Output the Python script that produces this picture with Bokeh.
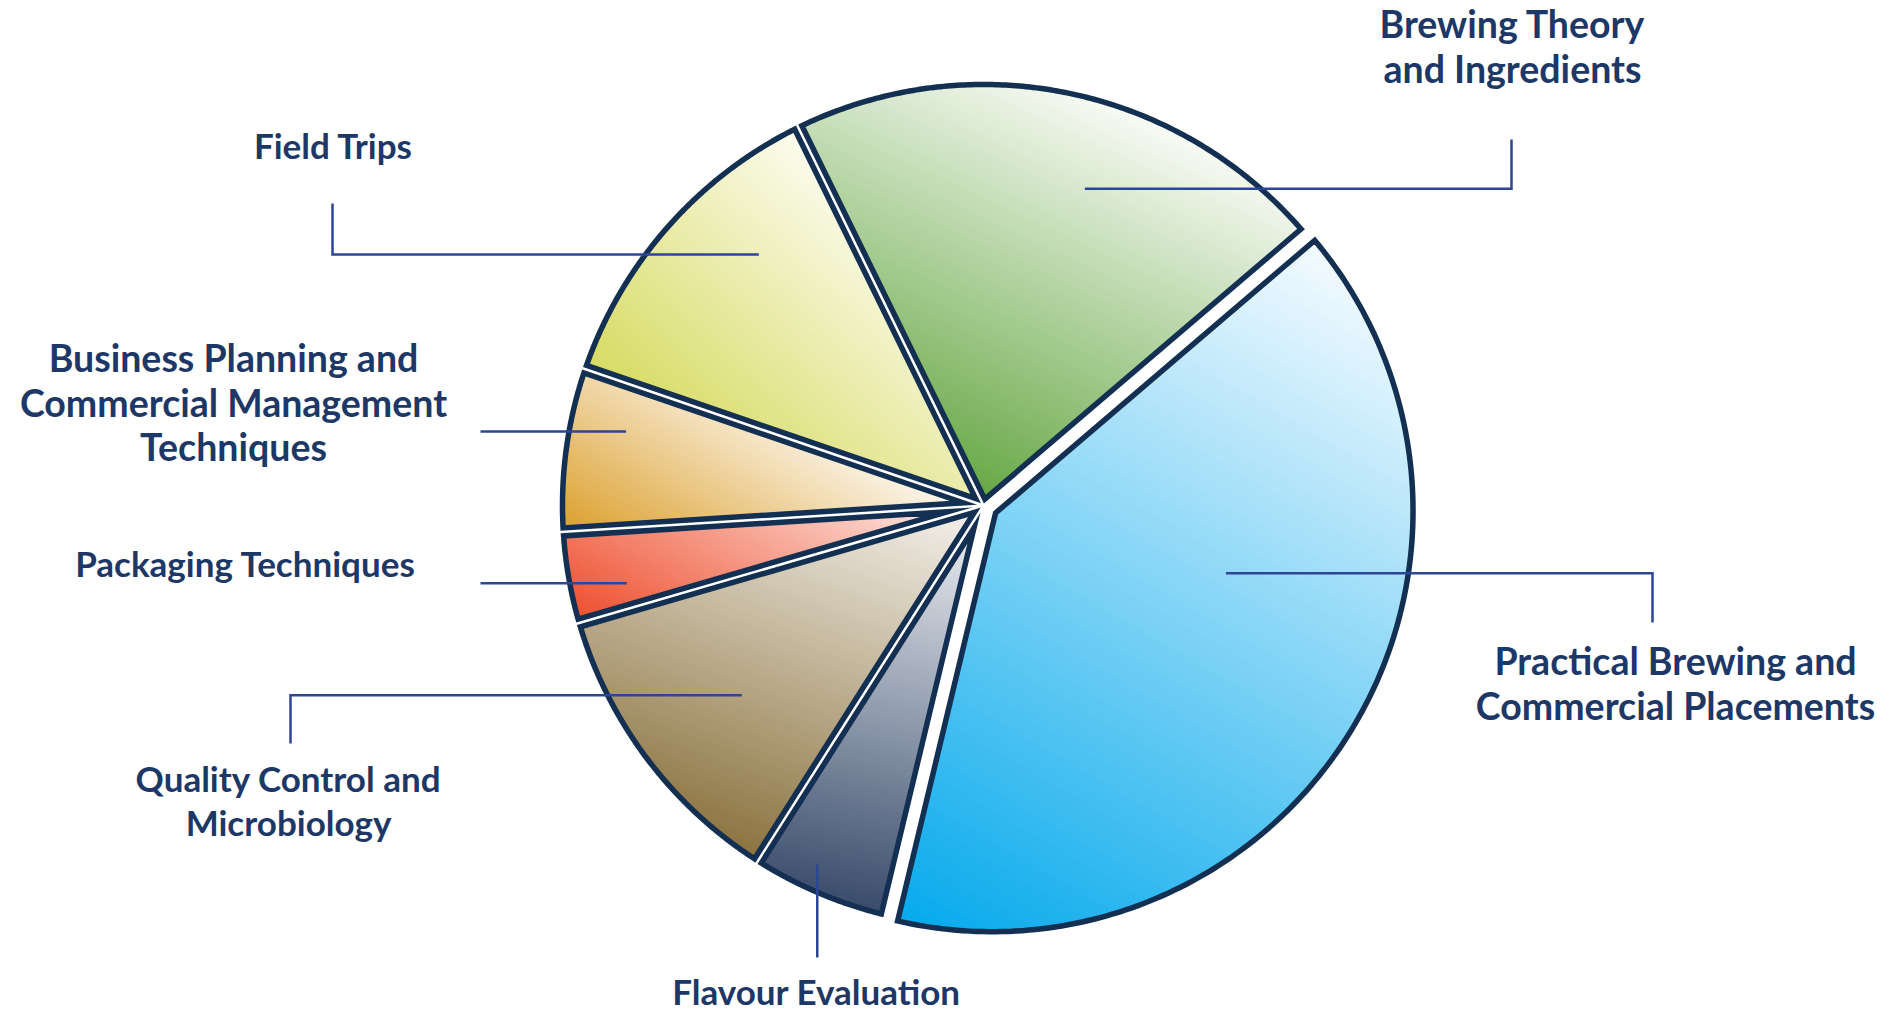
import numpy as np
from bokeh.plotting import figure
from bokeh.models import Range1d, ColumnDataSource
from bokeh.embed import file_html
from bokeh.resources import INLINE
from bokeh.core.properties import value

# ---------------- data ----------------
categories = [
    "Brewing Theory and Ingredients",
    "Field Trips",
    "Business Planning and Commercial Management Techniques",
    "Packaging Techniques",
    "Quality Control and Microbiology",
    "Flavour Evaluation",
    "Practical Brewing and Commercial Placements",
]
shares = [21.0, 12.5, 6.25, 3.5, 11.5, 5.25, 40.0]
label_lines = [
    ["Brewing Theory", "and Ingredients"],
    ["Field Trips"],
    ["Business Planning and", "Commercial Management", "Techniques"],
    ["Packaging Techniques"],
    ["Quality Control and", "Microbiology"],
    ["Flavour Evaluation"],
    ["Practical Brewing and", "Commercial Placements"],
]
light_colors = ["#f9fbf6", "#fcfcf0", "#fcf7ee", "#fde6e0", "#f4f1ec", "#eaedf1", "#f5fbff"]
dark_colors = ["#67a845", "#d7db62", "#dca130", "#ee5030", "#8c7440", "#394c6b", "#06aaec"]

# ---------------- layout / style ----------------
W, H = 1895, 1012


def X(px):
    return px


def Y(py):
    return H - py


CX, CY = X(983), Y(505)
R = 421
START_DEG = 40.5
GAP = 4.0
EXPLODE = [0, 0, 0, 0, 0, 0, 10]
GRAD_ANGLE = [245, 228, 240, 240, 250, 258, 240]
OUTLINE = "#132f52"
LEADER = "#2c4595"
TEXT = "#1d3766"
FONT = "Lato"
LINE_H = 44.5

# leader: (fraction along slice, radius fraction, elbow page-x, end page-y)
LEADERS = [
    (0.42, 0.79, 1511, 139),
    (0.35, 0.80, 332, 203),
    (0.32, 0.867, 480, None),
    (0.69, 0.867, 480, None),
    (0.53, 0.73, 290, 743),
    (0.40, 0.94, None, 957),
    (0.615, 0.575, 1652, 622),
]
# label: (center page-x, first baseline page-y, font px)
LABEL_POS = [
    (1512, 23, 37.5),
    (333, 144, 35),
    (233, 357, 37.5),
    (245, 562, 35),
    (288, 777, 35),
    (816, 990, 35),
    (1675, 660, 37.5),
]


def hex2rgb(h):
    h = h.lstrip("#")
    return np.array([int(h[i:i + 2], 16) for i in (0, 2, 4)], dtype=float)


def rgb2hex(c):
    c = np.clip(np.round(c), 0, 255).astype(int)
    return "#%02x%02x%02x" % tuple(c)


def clip_half(poly, ux, uy, c, keep_ge):
    out = []
    n = len(poly)
    for i in range(n):
        P = poly[i]
        Q = poly[(i + 1) % n]
        sp = P[0] * ux + P[1] * uy - c
        sq = Q[0] * ux + Q[1] * uy - c
        if not keep_ge:
            sp, sq = -sp, -sq
        pin, qin = sp >= 0, sq >= 0
        if pin:
            out.append(P)
        if pin != qin:
            t = sp / (sp - sq)
            out.append((P[0] + t * (Q[0] - P[0]), P[1] + t * (Q[1] - P[1])))
    return out


total = float(sum(shares))
angles = [np.radians(START_DEG)]
for s in shares:
    angles.append(angles[-1] + 2 * np.pi * s / total)

band_xs, band_ys, band_col = [], [], []
out_xs, out_ys = [], []
lead_xs, lead_ys = [], []

NB = 90
for i in range(len(shares)):
    a1, a2 = angles[i], angles[i + 1]
    half = (a2 - a1) / 2
    bis = a1 + half
    cx = CX + EXPLODE[i] * np.cos(bis)
    cy = CY + EXPLODE[i] * np.sin(bis)
    apex_d = GAP / np.sin(half)
    ax, ay = cx + apex_d * np.cos(bis), cy + apex_d * np.sin(bis)
    da = np.arcsin(GAP / R)
    ang = np.linspace(a1 + da, a2 - da, 160)
    pxs = [ax] + list(cx + R * np.cos(ang))
    pys = [ay] + list(cy + R * np.sin(ang))
    poly = list(zip(pxs, pys))
    out_xs.append(pxs)
    out_ys.append(pys)

    g = np.radians(GRAD_ANGLE[i])
    ux, uy = np.cos(g), np.sin(g)
    s_vals = [x * ux + y * uy for x, y in poly]
    smin, smax = min(s_vals), max(s_vals)
    c_lo, c_hi = hex2rgb(light_colors[i]), hex2rgb(dark_colors[i])
    step = (smax - smin) / NB
    for k in range(NB):
        lo = smin + k * step - 0.8
        hi = smin + (k + 1) * step + 0.8
        pc = clip_half(poly, ux, uy, lo, True)
        if len(pc) < 3:
            continue
        pc = clip_half(pc, ux, uy, hi, False)
        if len(pc) < 3:
            continue
        t = (k + 0.5) / NB
        band_xs.append([q[0] for q in pc])
        band_ys.append([q[1] for q in pc])
        band_col.append(rgb2hex(c_lo + (c_hi - c_lo) * t))

    frac, rfrac, elbow, endy = LEADERS[i]
    la = a1 + frac * (a2 - a1)
    lx = cx + rfrac * R * np.cos(la)
    ly = cy + rfrac * R * np.sin(la)
    xs = [lx]
    ys = [ly]
    if elbow is not None:
        xs.append(X(elbow))
        ys.append(ly)
    if endy is not None:
        xs.append(xs[-1])
        ys.append(Y(endy))
    lead_xs.append(xs)
    lead_ys.append(ys)

p = figure(width=W, height=H, x_range=Range1d(0, W), y_range=Range1d(0, H),
           output_backend="svg", toolbar_location=None, min_border=0,
           x_axis_type=None, y_axis_type=None)
p.grid.visible = False
p.outline_line_color = None
p.background_fill_color = "white"
p.border_fill_color = "white"

p.patches("xs", "ys", source=ColumnDataSource(dict(xs=band_xs, ys=band_ys, c=band_col)),
          fill_color="c", line_color=None)
p.patches("xs", "ys", source=ColumnDataSource(dict(xs=out_xs, ys=out_ys, cat=categories)),
          fill_color=None, line_color=OUTLINE, line_width=5.5, line_join="miter")
p.multi_line("xs", "ys", source=ColumnDataSource(dict(xs=lead_xs, ys=lead_ys)),
             line_color=LEADER, line_width=2.5, line_join="miter", line_cap="butt")

tx, ty, tt, ts = [], [], [], []
for i, lines in enumerate(label_lines):
    lx, ly, fs = LABEL_POS[i]
    for j, line in enumerate(lines):
        tx.append(X(lx))
        ty.append(Y(ly + j * LINE_H))
        tt.append(line)
        ts.append(f"{fs}px")
p.text("x", "y", "t", source=ColumnDataSource(dict(x=tx, y=ty, t=tt, fs=ts)),
       text_font=value(FONT), text_font_style="bold", text_font_size="fs",
       text_color=TEXT, text_align="center", text_baseline="alphabetic")

open("out.html", "w").write(file_html(p, INLINE))
